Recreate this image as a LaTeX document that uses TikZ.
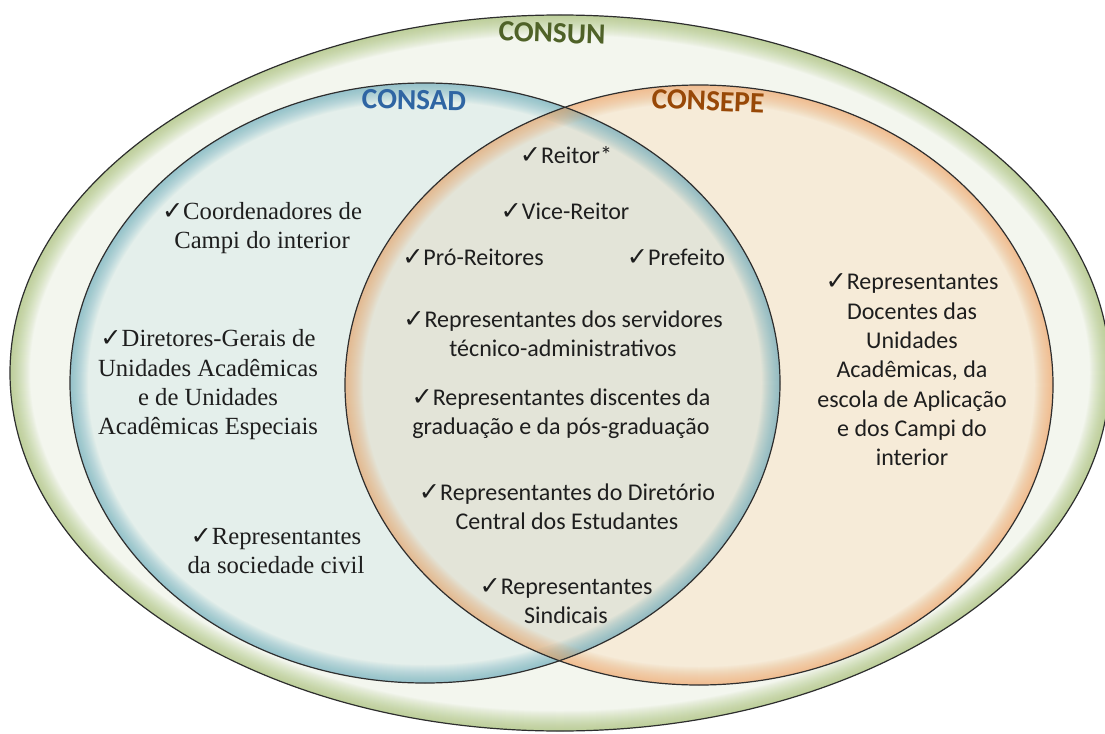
\documentclass[tikz,border=0pt]{standalone}
\usepackage{fontspec}
\setmainfont{Carlito}
\newfontfamily\serifF{Liberation Serif}
\newfontfamily\djv{DejaVu Sans}
\newcommand{\chk}{{\djv\fontsize{19}{19}\selectfont ✓}}
\definecolor{outerFill}{HTML}{F3F6EE}
\definecolor{outerGlow}{HTML}{9DBB62}
\definecolor{blueFill}{HTML}{E4EFEB}
\definecolor{blueGlow}{HTML}{5FA7B9}
\definecolor{orFill}{HTML}{F6EBD8}
\definecolor{orGlow}{HTML}{F0A262}
\definecolor{midFill}{HTML}{E3E4D8}
\definecolor{lineC}{HTML}{2E2E2E}
\definecolor{consunC}{HTML}{4F6228}
\definecolor{consadC}{HTML}{2F65A3}
\definecolor{consepeC}{HTML}{984807}
\definecolor{txtC}{HTML}{1E1E1E}
\tikzset{
  outerE/.style={insert path={(560,373) ellipse [x radius=412.5pt, y radius=268.5pt]}},
  blueE/.style={insert path={(425,383) ellipse [x radius=266.25pt, y radius=225pt]}},
  orE/.style={insert path={(699,385) ellipse [x radius=265.5pt, y radius=225pt]}},
  title/.style={font=\bfseries\fontsize{22}{22}\selectfont},
  item/.style={align=center, text=txtC, font=\fontsize{18}{22}\selectfont, inner sep=0pt},
  sitem/.style={align=center, text=txtC, font=\serifF\fontsize{18.5}{22}\selectfont, inner sep=0pt},
  outline/.style={draw=lineC, line width=0.9pt}
}
\begin{document}
\begin{tikzpicture}[x=0.75pt,y=-0.75pt]
\useasboundingbox (0,0) rectangle (1105,734);
\fill[white] (0,0) rectangle (1105,734);
\clip (0,0) rectangle (1105,734);
% outer
\fill[outerFill, outerE];
\begin{scope}
  \clip[outerE];
  \foreach \w in {1.5,3,...,30}
    \draw[line width=\w pt, draw=outerGlow, opacity=0.04, outerE];
\end{scope}
% blue and orange fills
\fill[blueFill, blueE];
\fill[orFill, orE];
\begin{scope}
  \clip[blueE];
  \fill[midFill, orE];
\end{scope}
% glows
\begin{scope}
  \clip[blueE];
  \foreach \w in {1.5,3,...,28}
    \draw[line width=\w pt, draw=blueGlow, opacity=0.045, blueE];
\end{scope}
\begin{scope}
  \clip[orE];
  \foreach \w in {1.5,3,...,28}
    \draw[line width=\w pt, draw=orGlow, opacity=0.045, orE];
\end{scope}
% outlines
\draw[outline, outerE];
\draw[outline, blueE];
\draw[outline, orE];
% titles
\node[title, text=consunC, rotate=-2] (consun) at (552,33) {CONSUN};
\node[title, text=consadC, rotate=-1] (consad) at (414,100) {CONSAD};
\node[title, text=consepeC, rotate=-2.5] (consepe) at (708,101) {CONSEPE};
% center items
\node[item] (reitor) at (566,155) {\chk Reitor*};
\node[item] (vice) at (565,211) {\chk Vice-Reitor};
\node[item] (pro) at (473,257) {\chk Pró-Reitores};
\node[item] (pref) at (676,257) {\chk Prefeito};
\node[item] (serv) at (563,334) {\chk Representantes dos servidores\\técnico-administrativos};
\node[item] (disc) at (561,414) {\chk Representantes discentes da\\graduação e da pós-graduação};
\node[item] (dce) at (567,507) {\chk Representantes do Diretório\\Central dos Estudantes};
\node[item] (sind) at (566,601) {\chk Representantes\\Sindicais};
% right items
\node[item] (doc) at (912,370) {\chk Representantes\\Docentes das\\Unidades\\Acadêmicas, da\\escola de Aplicação\\e dos Campi do\\interior};
% left items
\node[sitem] (coord) at (262,228) {\chk Coordenadores de\\Campi do interior};
\node[sitem] (dir) at (208,385) {\chk Diretores-Gerais de\\Unidades Acadêmicas\\e de Unidades\\Acadêmicas Especiais};
\node[sitem] (soc) at (276,551) {\chk Representantes\\da sociedade civil};
\end{tikzpicture}
\end{document}
